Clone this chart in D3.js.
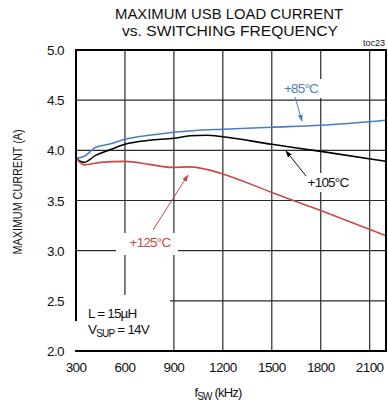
<!DOCTYPE html>
<html>
<head>
<meta charset="utf-8">
<script src="https://cdn.jsdelivr.net/npm/d3@7"></script>
<style>
  body { margin: 0; background: #fff; }
  text { font-family: "Liberation Sans", Arial, sans-serif; fill: #111; }
</style>
</head>
<body>
<div id="chart"></div>
<script>
// MAXIMUM USB LOAD CURRENT vs. SWITCHING FREQUENCY (toc23)

const xTicks = [300, 600, 900, 1200, 1500, 1800, 2100];
const yTicks = [2.0, 2.5, 3.0, 3.5, 4.0, 4.5, 5.0];

// +85°C
const freq85 = [300, 350, 420, 500, 600, 750, 900, 1050, 1200, 1500, 1800, 2200];
const cur85  = [3.92, 3.94, 4.03, 4.06, 4.11, 4.15, 4.18, 4.20, 4.21, 4.23, 4.25, 4.30];
// +105°C
const freq105 = [300, 350, 420, 500, 600, 750, 900, 1000, 1100, 1200, 1500, 1800, 2200];
const cur105  = [3.92, 3.88, 3.95, 4.00, 4.06, 4.10, 4.12, 4.145, 4.15, 4.135, 4.06, 3.99, 3.89];
// +125°C
const freq125 = [300, 350, 450, 600, 750, 880, 1000, 1100, 1200, 1500, 1800, 2200];
const cur125  = [3.92, 3.855, 3.88, 3.89, 3.86, 3.83, 3.835, 3.81, 3.765, 3.58, 3.40, 3.15];

const width = 388, height = 406;
const svg = d3.select("#chart").append("svg")
  .attr("width", width)
  .attr("height", height);

const x = d3.scaleLinear().domain([300, 2200]).range([76, 386]);
const y = d3.scaleLinear().domain([2, 5]).range([351, 50]);

// === grid ===
const grid = svg.append("g").attr("stroke", "#2a2a2a").attr("stroke-width", 1.2);
grid.selectAll(".vx")
  .data(xTicks.slice(1))
  .join("line")
  .attr("x1", d => x(d)).attr("x2", d => x(d))
  .attr("y1", y(5)).attr("y2", y(2));
grid.selectAll(".hy")
  .data(yTicks.slice(1, -1))
  .join("line")
  .attr("x1", x(300)).attr("x2", x(2200))
  .attr("y1", d => y(d)).attr("y2", d => y(d));

// === curves ===
const line = d3.line()
  .x(d => x(d[0]))
  .y(d => y(d[1]))
  .curve(d3.curveMonotoneX);

const series = [
  { f: freq85, v: cur85, color: "#4a7ec4" },
  { f: freq105, v: cur105, color: "#000000" },
  { f: freq125, v: cur125, color: "#c8494a" }
];

svg.append("g")
  .selectAll("path")
  .data(series)
  .join("path")
  .attr("d", s => line(s.f.map((f, i) => [f, s.v[i]])))
  .attr("fill", "none")
  .attr("stroke", s => s.color)
  .attr("stroke-width", 1.6);

// === annotations (white boxes break the grid) ===
svg.append("defs").selectAll("marker")
  .data([["a85", "#4a7ec4"], ["a105", "#000"], ["a125", "#c8494a"]])
  .join("marker")
  .attr("id", d => d[0])
  .attr("viewBox", "0 0 10 10")
  .attr("refX", 9).attr("refY", 5)
  .attr("markerWidth", 7).attr("markerHeight", 7)
  .attr("orient", "auto")
  .append("path")
  .attr("d", "M0,1.5 L10,5 L0,8.5 Z")
  .attr("fill", d => d[1]);

const notes = [
  { label: "+85°C", color: "#4a7ec4", tx: 301, ty: 93, box: [280, 79, 42, 19], from: [295, 97], to: [302, 121], m: "a85" },
  { label: "+105°C", color: "#111", tx: 328, ty: 187, box: [303, 173, 50, 19], from: [306, 176], to: [286, 151], m: "a105" },
  { label: "+125°C", color: "#c8494a", tx: 150, ty: 247, box: [116, 233, 62, 22], from: [153, 230], to: [188, 175], m: "a125" }
];

svg.append("g").selectAll("rect")
  .data(notes)
  .join("rect")
  .attr("x", d => d.box[0]).attr("y", d => d.box[1])
  .attr("width", d => d.box[2]).attr("height", d => d.box[3])
  .attr("fill", "#fff");

svg.append("g").selectAll("line")
  .data(notes)
  .join("line")
  .attr("x1", d => d.from[0]).attr("y1", d => d.from[1])
  .attr("x2", d => d.to[0]).attr("y2", d => d.to[1])
  .attr("stroke", d => d.color)
  .attr("stroke-width", 1)
  .attr("marker-end", d => `url(#${d.m})`);

svg.append("g").selectAll("text")
  .data(notes)
  .join("text")
  .attr("x", d => d.tx).attr("y", d => d.ty)
  .attr("text-anchor", "middle")
  .attr("font-size", 13.5)
  .attr("letter-spacing", -0.8)
  .style("fill", d => d.color)
  .text(d => d.label);

// condition box bottom-left
svg.append("rect")
  .attr("x", 74).attr("y", 295)
  .attr("width", 96).attr("height", 56)
  .attr("fill", "#fff");

// === plot frame ===
const frame = svg.append("g").attr("stroke", "#000").attr("fill", "none");
frame.append("path")
  .attr("d", `M${x(300)},${y(2.3)} L${x(300)},${y(5)} L${x(2200)},${y(5)} L${x(2200)},${y(2)} L${x(300) - 1},${y(2)}`)
  .attr("stroke-width", 2);

const cond = svg.append("text")
  .attr("x", 88).attr("y", 318)
  .attr("font-size", 13.5)
  .attr("letter-spacing", -0.8);
cond.text("L = 15µH");

const cond2 = svg.append("text")
  .attr("x", 88).attr("y", 334)
  .attr("font-size", 13.5)
  .attr("letter-spacing", -0.8);
cond2.append("tspan").text("V");
cond2.append("tspan").attr("font-size", 10).attr("dy", 3).text("SUP");
cond2.append("tspan").attr("dy", -3).text(" = 14V");

// === tick labels ===
svg.append("g").selectAll("text")
  .data(yTicks)
  .join("text")
  .attr("x", 64)
  .attr("y", d => y(d) + 5)
  .attr("text-anchor", "end")
  .attr("font-size", 13.5)
  .attr("letter-spacing", -0.6)
  .text(d => d.toFixed(1));

svg.append("g").selectAll("text")
  .data(xTicks)
  .join("text")
  .attr("x", d => x(d))
  .attr("y", 372)
  .attr("text-anchor", "middle")
  .attr("font-size", 13.5)
  .attr("letter-spacing", -0.6)
  .text(d => d);

// === axis titles ===
const xt = svg.append("text")
  .attr("x", 218).attr("y", 397)
  .attr("text-anchor", "middle")
  .attr("font-size", 13)
  .attr("letter-spacing", -0.8);
xt.append("tspan").text("f");
xt.append("tspan").attr("font-size", 10).attr("dy", 3).text("SW");
xt.append("tspan").attr("dy", -3).text(" (kHz)");

svg.append("text")
  .attr("transform", "translate(22,192) rotate(-90)")
  .attr("text-anchor", "middle")
  .attr("font-size", 12.5)
  .attr("textLength", 125)
  .attr("lengthAdjust", "spacingAndGlyphs")
  .text("MAXIMUM CURRENT (A)");

// === title ===
svg.append("text")
  .attr("x", 115).attr("y", 19)
  .attr("font-size", 15.5)
  .attr("textLength", 228)
  .attr("lengthAdjust", "spacingAndGlyphs")
  .text("MAXIMUM USB LOAD CURRENT");

svg.append("text")
  .attr("x", 122).attr("y", 36)
  .attr("font-size", 15.5)
  .attr("textLength", 216)
  .attr("lengthAdjust", "spacingAndGlyphs")
  .text("vs. SWITCHING FREQUENCY");

svg.append("text")
  .attr("x", 385).attr("y", 46)
  .attr("text-anchor", "end")
  .attr("font-size", 9)
  .text("toc23");
</script>
</body>
</html>
